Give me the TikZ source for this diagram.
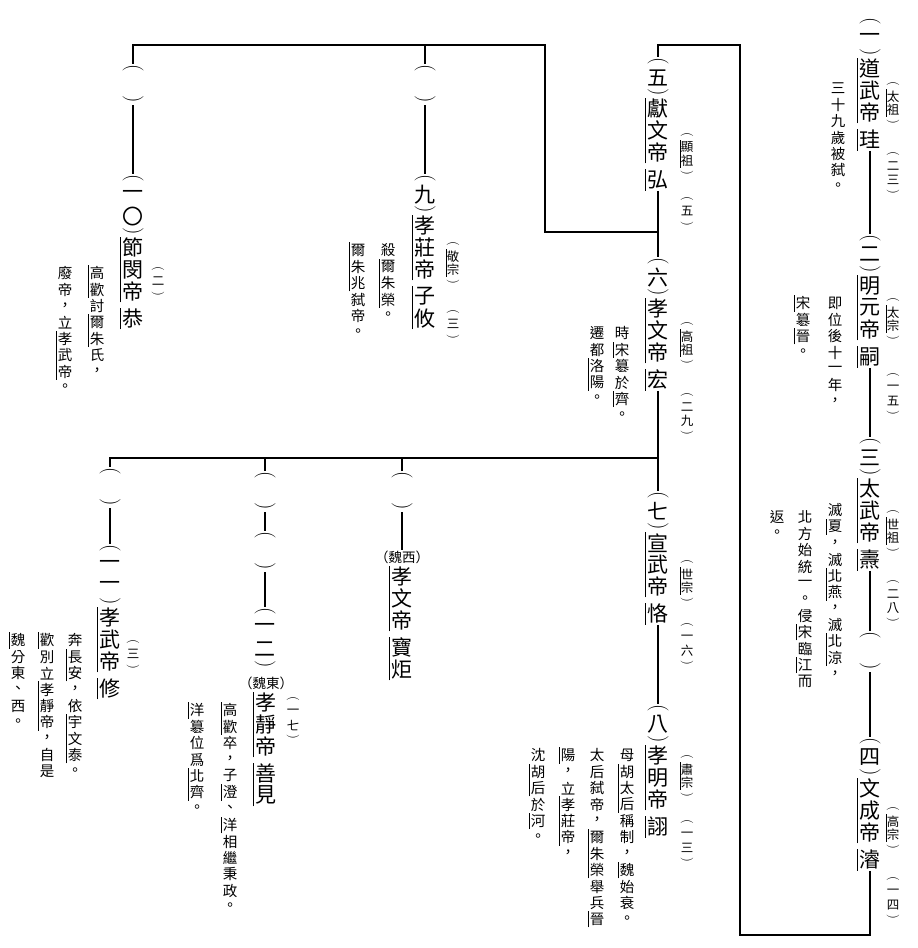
\documentclass[tikz,border=0pt]{standalone}
\usepackage{fontspec}
\usepackage{graphicx}
\newfontfamily\cjk{Noto Sans CJK TC}
\usetikzlibrary{positioning}

% vertical text: | marks the next character, * is a small gap, + is an empty cell,
% ︵ and ︶ are set as turned round brackets
\def\vtp{1.1em}\def\vtpp{0.6em}\def\vtgap{0.25em}\def\vtw{1.2em}\def\vtrule{0.6pt}
\makeatletter
\newif\ifvt@mark
\newbox\vt@box
\newdimen\vt@raise
\def\vt@stop{\vt@stop}
\newcommand\vtext[1]{\vbox{\offinterlineskip\vt@markfalse\vt@loop#1\vt@stop}}
\def\vt@loop#1{%
  \ifx\vt@stop#1\let\vt@next\relax
  \else
    \let\vt@next\vt@loop
    \ifx|#1\vt@marktrue
    \else\ifx*#1\vskip\vtgap
    \else\ifx+#1\vt@cell{\vtp}{}%
    \else\ifx︵#1\vt@cell{\vtpp}{\rotatebox[origin=c]{-90}{\rmfamily(}}%
    \else\ifx︶#1\vt@cell{\vtpp}{\rotatebox[origin=c]{-90}{\rmfamily)}}%
    \else\vt@cell{\vtp}{#1}%
    \fi\fi\fi\fi\fi
  \fi\vt@next}
\def\vt@cell#1#2{%
  \setbox\vt@box\hbox{#2}%
  \vt@raise=\dimexpr(#1-\ht\vt@box+\dp\vt@box)/2\relax
  \ht\vt@box=0pt \dp\vt@box=0pt
  \hbox to\vtw{\ifvt@mark\rlap{\vrule width\vtrule height#1 depth0pt}\fi
    \vrule width0pt height#1 depth0pt\hss\raise\vt@raise\box\vt@box\hss}%
  \vt@markfalse}
\makeatother

\tikzset{
  every node/.style={inner sep=0pt},
  emperor/.style={font=\cjk\fontsize{21}{21}\selectfont, anchor=north,
    execute at begin node={\def\vtp{1.04em}\def\vtpp{0.45em}}},
  temple/.style={font=\cjk\fontsize{12.5}{12.5}\selectfont, anchor=north,
    execute at begin node={\def\vtp{1.1em}\def\vtpp{0.9em}}},
  remark/.style={font=\cjk\fontsize{14.5}{14.5}\selectfont, anchor=north,
    execute at begin node={\def\vtp{1.13em}\def\vtpp{1em}}},
  dynasty/.style={font=\cjk\fontsize{13.5}{13.5}\selectfont},
  branch/.style={line width=1.1pt},
}

\begin{document}
\begin{tikzpicture}[x=1pt, y=-1pt]

\fill[white] (0,0) rectangle (918,948);

% --- first line of emperors ---
\node[emperor] (n1)  at (870,17)  {\vtext{︵一︶|道|武|帝*|珪}};
\node[emperor] (n2)  at (870,234) {\vtext{︵二︶|明|元|帝*|嗣}};
\node[emperor] (n3)  at (870,437) {\vtext{︵三︶|太|武|帝*|燾}};
\node[emperor] (n3e) at (870,631) {\vtext{︵+︶}};
\node[emperor] (n4)  at (870,737) {\vtext{︵四︶|文|成|帝*|濬}};

\node[temple] (t1a) at (893,78)  {\vtext{︵|太|祖︶}};
\node[temple] (t1b) at (893,148) {\vtext{︵二三︶}};
\node[temple] (t2a) at (893,294) {\vtext{︵|太|宗︶}};
\node[temple] (t2b) at (893,369) {\vtext{︵一五︶}};
\node[temple] (t3a) at (893,506) {\vtext{︵|世|祖︶}};
\node[temple] (t3b) at (893,576) {\vtext{︵二八︶}};
\node[temple] (t4a) at (893,803) {\vtext{︵|高|宗︶}};
\node[temple] (t4b) at (893,873) {\vtext{︵一四︶}};

\node[remark] (r1)  at (838,80)  {\vtext{三十九歲被弑。}};
\node[remark] (r2a) at (835,295) {\vtext{即位後十一年，}};
\node[remark] (r2b) at (803,295) {\vtext{|宋簒|晉。}};
\node[remark] (r3a) at (835,502) {\vtext{滅|夏，滅|北|燕，滅|北|涼，}};
\node[remark] (r3b) at (805,509) {\vtext{北方始統一。侵|宋臨|江而}};
\node[remark] (r3c) at (777,509) {\vtext{返。}};

% --- second line ---
\node[emperor] (n5) at (658,57)  {\vtext{︵五︶|獻|文|帝*|弘}};
\node[emperor] (n6) at (658,257) {\vtext{︵六︶|孝|文|帝*|宏}};
\node[emperor] (n7) at (658,491) {\vtext{︵七︶|宣|武|帝*|恪}};
\node[emperor] (n8) at (658,704) {\vtext{︵八︶|孝|明|帝*|詡}};

\node[temple] (t5a) at (687,129) {\vtext{︵|顯|祖︶}};
\node[temple] (t5b) at (687,193) {\vtext{︵五︶}};
\node[temple] (t6a) at (687,318) {\vtext{︵|高|祖︶}};
\node[temple] (t6b) at (687,389) {\vtext{︵二九︶}};
\node[temple] (t7a) at (687,556) {\vtext{︵|世|宗︶}};
\node[temple] (t7b) at (687,619) {\vtext{︵一六︶}};
\node[temple] (t8a) at (687,751) {\vtext{︵|肅|宗︶}};
\node[temple] (t8b) at (687,816) {\vtext{︵一三︶}};

\node[remark] (r6a) at (622,325) {\vtext{時|宋簒於|齊。}};
\node[remark] (r6b) at (597,325) {\vtext{遷都|洛|陽。}};
\node[remark] (r8a) at (627,747) {\vtext{母|胡|太|后稱制，|魏始衰。}};
\node[remark] (r8b) at (597,747) {\vtext{太后弑帝，|爾|朱|榮舉兵|晉}};
\node[remark] (r8c) at (568,747) {\vtext{|陽，立|孝|莊|帝，}};
\node[remark] (r8d) at (538,747) {\vtext{沈|胡|后於|河。}};

% --- upper branches ---
\node[emperor] (n9e)  at (425,64)  {\vtext{︵+︶}};
\node[emperor] (n9)   at (425,174) {\vtext{︵九︶|孝|莊|帝*|子|攸}};
\node[emperor] (n10e) at (133,64)  {\vtext{︵+︶}};
\node[emperor] (n10)  at (133,174) {\vtext{︵一〇︶|節|閔|帝*|恭}};

\node[temple] (t9a)  at (453,238) {\vtext{︵|敬|宗︶}};
\node[temple] (t9b)  at (453,306) {\vtext{︵三︶}};
\node[temple] (t10b) at (158,263) {\vtext{︵二︶}};

\node[remark] (r9a)  at (388,242) {\vtext{殺|爾|朱|榮。}};
\node[remark] (r9b)  at (358,242) {\vtext{|爾|朱|兆弑帝。}};
\node[remark] (r10a) at (97,265)  {\vtext{|高|歡討|爾|朱氏，}};
\node[remark] (r10b) at (65,265)  {\vtext{廢帝，立|孝|武|帝。}};

% --- lower branches ---
\node[emperor] (w1e) at (402,471) {\vtext{︵+︶}};
\node[dynasty] (w1lab) at (402,557) {（魏西）};
\node[emperor, below=2pt of w1lab] (w1) {\vtext{|孝|文|帝*|寶|炬}};

\node[emperor] (e1e) at (265,471) {\vtext{︵+︶}};
\node[emperor] (e1f) at (265,531) {\vtext{︵+︶}};
\node[emperor] (e12) at (265,607) {\vtext{︵一二︶}};
\node[dynasty] (e1lab) at (266,683) {（魏東）};
\node[emperor, below=2pt of e1lab] (e1) {\vtext{|孝|靜|帝*|善|見}};

\node[emperor] (x1e) at (110,467) {\vtext{︵+︶}};
\node[emperor] (x11) at (110,544) {\vtext{︵一一︶|孝|武|帝*|修}};

\node[temple] (t12b) at (293,693) {\vtext{︵一七︶}};
\node[temple] (t11b) at (133,636) {\vtext{︵三︶}};

\node[remark] (r12a) at (230,702) {\vtext{|高|歡卒，子|澄、|洋相繼秉政。}};
\node[remark] (r12b) at (197,702) {\vtext{|洋簒位爲|北|齊。}};
\node[remark] (r11a) at (75,632)  {\vtext{奔|長|安，依|宇|文|泰。}};
\node[remark] (r11b) at (47,632)  {\vtext{|歡別立|孝|靜|帝，自是}};
\node[remark] (r11c) at (18,632)  {\vtext{|魏分東、西。}};

% --- connectors ---
\coordinate (loopS) at (740,935);
\coordinate (loopN) at (740,45);
\coordinate (forkA) at (545,232);
\coordinate (forkB) at (545,45);
\coordinate (forkC) at (658,458);

\draw[branch] (n1.south) -- (n2.north);
\draw[branch] (n2.south) -- (n3.north);
\draw[branch] (n3.south) -- (n3e.north);
\draw[branch] (n3e.south) -- (n4.north);
\draw[branch] (n4.south) |- (loopS) -- (loopN) -| (n5.north);

\draw[branch] (n5.south) -- (n6.north);
\draw[branch] (n6.south) -- (n7.north);
\draw[branch] (n7.south) -- (n8.north);

\draw[branch] (n5.south |- forkA) -- (forkA) -- (forkB) -| (n10e.north);
\draw[branch] (n9e.north) -- (n9e.north |- forkB);
\draw[branch] (n9e.south) -- (n9.north);
\draw[branch] (n10e.south) -- (n10.north);

\draw[branch] (forkC) -| (x1e.north);
\draw[branch] (w1e.north) -- (w1e.north |- forkC);
\draw[branch] (e1e.north) -- (e1e.north |- forkC);
\draw[branch] (w1e.south) -- (w1lab.north);
\draw[branch] (e1e.south) -- (e1f.north);
\draw[branch] (e1f.south) -- (e12.north);
\draw[branch] (x1e.south) -- (x11.north);

\end{tikzpicture}
\end{document}
